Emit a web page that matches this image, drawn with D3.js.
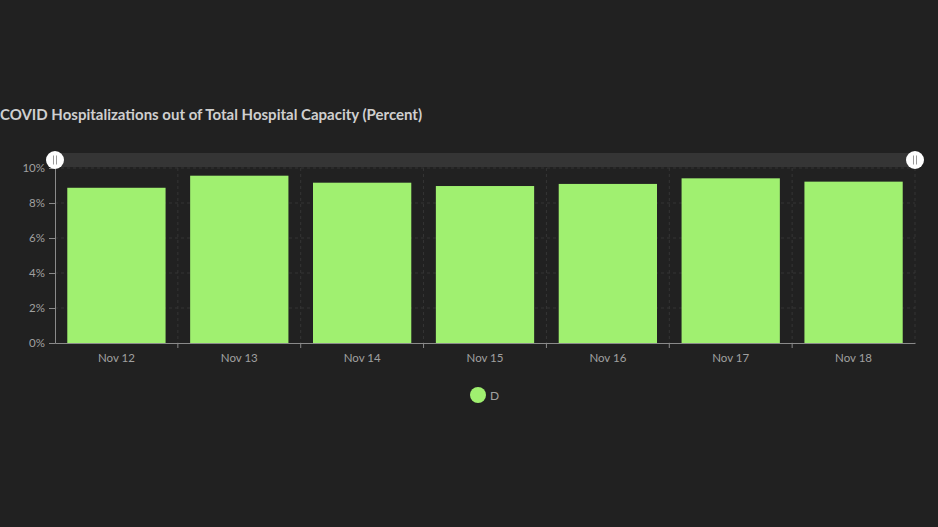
<!DOCTYPE html>
<html><head><meta charset="utf-8">
<script src="https://cdn.jsdelivr.net/npm/d3@7"></script>
<style>
html,body{margin:0;padding:0;background:#212121;}
svg{display:block;}
</style></head>
<body><svg id="c" width="938" height="527"></svg>
<script>
const categories = ["Nov 12","Nov 13","Nov 14","Nov 15","Nov 16","Nov 17","Nov 18"];
const values = [8.87, 9.56, 9.16, 8.97, 9.09, 9.41, 9.22];
const yTicks = [0, 2, 4, 6, 8, 10];
const seriesName = "D";
const title = "COVID Hospitalizations out of Total Hospital Capacity (Percent)";

const svg = d3.select("#c");
const W = 938, H = 527;
const m = {left: 55, right: 23, top: 168, bottom: 184};
const x = d3.scaleBand().domain(categories).range([m.left, W - m.right]).paddingInner(0.2).paddingOuter(0.1);
const y = d3.scaleLinear().domain([0, 10]).range([H - m.bottom, m.top]);
const green = "#a0f070";
const font = "Lato, 'Open Sans', sans-serif";

svg.append("rect").attr("width", W).attr("height", H).attr("fill", "#212121");

svg.append("text").attr("x", 0).attr("y", 120)
  .attr("fill", "#cfcfcf").attr("font-family", font)
  .attr("font-size", 15).attr("font-weight", "bold").text(title);

// grid
const g = svg.append("g");
g.selectAll(".hg").data(yTicks.slice(1)).join("line")
  .attr("x1", m.left).attr("x2", W - m.right)
  .attr("y1", d => y(d)).attr("y2", d => y(d))
  .attr("stroke", "#353535").attr("stroke-dasharray", "3,3");
const bounds = categories.slice(1).map(c => x(c) - x.step() * x.paddingInner() / 2);
bounds.push(W - m.right);
g.selectAll(".vg").data(bounds).join("line")
  .attr("x1", d => d).attr("x2", d => d)
  .attr("y1", m.top).attr("y2", y(0))
  .attr("stroke", "#353535").attr("stroke-dasharray", "3,3");

// bars
svg.append("g").selectAll("rect").data(values).join("rect")
  .attr("x", (d, i) => x(categories[i]))
  .attr("width", x.bandwidth())
  .attr("y", d => y(d))
  .attr("height", d => y(0) - y(d))
  .attr("fill", green);

// axes
const tickCol = "#a0a0a0";
const ya = svg.append("g").attr("transform", `translate(${m.left},0)`)
  .call(d3.axisLeft(y).tickValues(yTicks).tickFormat(d => d + "%").tickSize(6).tickPadding(4));
ya.select(".domain").attr("stroke", "#8a8a8a");
ya.selectAll(".tick line").attr("stroke", "#8a8a8a");
ya.selectAll("text").attr("fill", tickCol).attr("font-size", 11.5).attr("font-family", font);

const xa = svg.append("g").attr("transform", `translate(0,${y(0)})`)
  .call(d3.axisBottom(x).tickSize(0).tickPadding(11));
xa.select(".domain").attr("stroke", "#8a8a8a");
xa.selectAll("text").attr("fill", tickCol).attr("font-size", 11.5).attr("font-family", font);
svg.append("g").selectAll("line").data(bounds.slice(0, -1)).join("line")
  .attr("x1", d => d).attr("x2", d => d).attr("y1", y(0)).attr("y2", y(0) + 5)
  .attr("stroke", "#8a8a8a");

// scrollbar
svg.append("rect").attr("x", m.left).attr("y", 153).attr("width", W - m.right - m.left).attr("height", 14)
  .attr("fill", "#353535");
[m.left, W - m.right].forEach(cx => {
  const h = svg.append("g").attr("transform", `translate(${cx},160)`);
  h.append("circle").attr("r", 9).attr("fill", "#ffffff");
  h.append("line").attr("x1", -1.5).attr("x2", -1.5).attr("y1", -4.5).attr("y2", 4.5).attr("stroke", "#999").attr("stroke-width", 1);
  h.append("line").attr("x1", 1.5).attr("x2", 1.5).attr("y1", -4.5).attr("y2", 4.5).attr("stroke", "#999").attr("stroke-width", 1);
});

// legend
const lg = svg.append("g").attr("transform", "translate(478,395)");
lg.append("circle").attr("r", 8).attr("fill", green);
lg.append("text").attr("x", 12).attr("y", 4.5).attr("fill", tickCol)
  .attr("font-size", 12).attr("font-family", font).text(seriesName);
</script></body></html>
